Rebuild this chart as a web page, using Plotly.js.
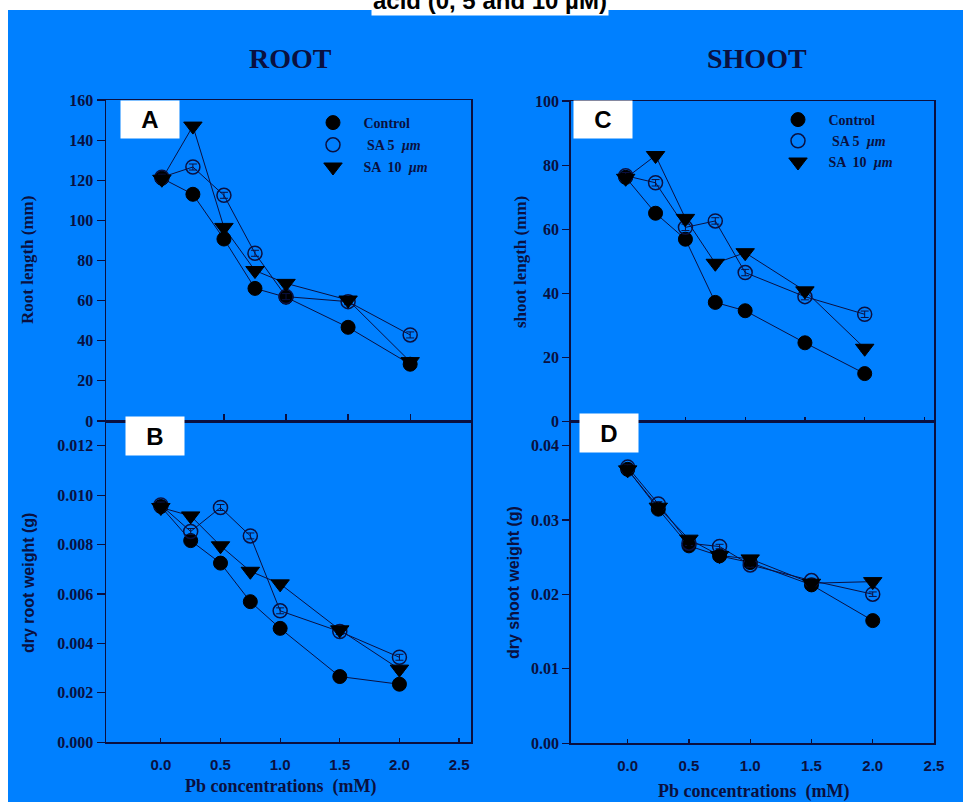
<!DOCTYPE html>
<html>
<head>
<meta charset="utf-8">
<script src="https://cdn.plot.ly/plotly-3.0.1.min.js"></script>
<style>html,body{margin:0;padding:0;background:#fff;}#chart{width:963px;height:802px;}</style>
</head>
<body>
<div id="chart"></div>
<script>
// ---- data ----
const pb = [0, 0.25, 0.5, 0.75, 1.0, 1.5, 2.0];
const seriesNames = ["Control", "\u00a0SA 5  <i>µm</i>", "SA  10  <i>µm</i>"];

const rootLenControl = [121, 113, 90.7, 66.1, 61.7, 46.7, 28.3];
const rootLenSA5     = [121.5, 126.6, 112.5, 83.6, 62, 59.5, 42.9];
const rootLenSA10    = [120.5, 147, 96.5, 75, 68.6, 60.3, 29.6];

const rootWtControl = [0.00954, 0.00816, 0.00725, 0.00569, 0.00461, 0.00266, 0.00235];
const rootWtSA5     = [0.0096, 0.00853, 0.0095, 0.00835, 0.00532, 0.00448, 0.00344];
const rootWtSA10    = [0.0095, 0.00916, 0.00795, 0.00692, 0.00641, 0.00455, 0.00296];

const shootLenControl = [76.2, 65, 56.9, 37.2, 34.6, 24.6, 15];
const shootLenSA5     = [76.7, 74.5, 60.6, 62.6, 46.5, 39, 33.5];
const shootLenSA10    = [75.9, 83, 63.4, 49.4, 52.7, 40.8, 22.9];

const shootWtControl = [0.0368, 0.03145, 0.02652, 0.02517, 0.02428, 0.02128, 0.01648];
const shootWtSA5     = [0.0371, 0.03216, 0.02688, 0.02643, 0.02396, 0.02186, 0.02003];
const shootWtSA10    = [0.03673, 0.03172, 0.02742, 0.02522, 0.02477, 0.0215, 0.02172];

// small error bars (estimated)
const errRootLen  = [1.5, 1.5, 1.5, 1.5, 1.5, 1.5, 1.5];
const errRootWt   = [0.00012, 0.00012, 0.00012, 0.00012, 0.00012, 0.00012, 0.00012];
const errShootLen = [1.0, 1.0, 1.0, 1.0, 1.0, 1.0, 1.0];
const errShootWt  = [0.0003, 0.0003, 0.0003, 0.0003, 0.0003, 0.0003, 0.0003];

// ---- styling ----
const W = 963, H = 802;
const px = v => v / W;
const py = v => 1 - v / H;
const NAVY = '#0a1040';
const BLUE = '#0080ff';
const serif = 'Liberation Serif, Times New Roman, serif';
const sans = 'Liberation Sans, Arial, sans-serif';

const markerStyles = [
  {symbol: 'circle', size: 14, color: '#000000', line: {color: '#000000', width: 1}},
  {symbol: 'circle', size: 14, color: 'rgba(0,0,0,0)', line: {color: NAVY, width: 1.5}},
  {symbol: 'triangle-down', size: 16, color: '#000000', line: {color: '#000000', width: 1}}
];

function makeTraces(ys, err, xa, ya, legendName) {
  const lines = ys.map((y, i) => ({
    type: 'scatter', mode: 'lines', x: pb, y: y, xaxis: xa, yaxis: ya,
    showlegend: false, hoverinfo: 'skip', line: {color: NAVY, width: 1}
  }));
  const marks = ys.map((y, i) => ({
    type: 'scatter', mode: 'markers',
    x: pb, y: y, xaxis: xa, yaxis: ya,
    name: '\u00a0\u00a0\u00a0' + seriesNames[i],
    legend: legendName || 'legend',
    legendgroup: (legendName || 'x') + i,
    showlegend: !!legendName,
    marker: markerStyles[i],
    error_y: {type: 'data', array: err, visible: true, color: NAVY, thickness: 1, width: 4}
  }));
  return lines.concat(marks);
}

const traces = [].concat(
  makeTraces([rootLenControl, rootLenSA5, rootLenSA10], errRootLen, 'x', 'y', 'legend'),
  makeTraces([rootWtControl, rootWtSA5, rootWtSA10], errRootWt, 'x2', 'y2', null),
  makeTraces([shootLenControl, shootLenSA5, shootLenSA10], errShootLen, 'x3', 'y3', 'legend2'),
  makeTraces([shootWtControl, shootWtSA5, shootWtSA10], errShootWt, 'x4', 'y4', null)
);

const axBase = {
  showline: true, linecolor: NAVY, linewidth: 1.5, mirror: true,
  showgrid: false, zeroline: false, tickcolor: NAVY, tickwidth: 1.2
};
const serifTick = {family: serif, size: 16, color: NAVY, weight: 'bold'};
const sansTick = {family: sans, size: 15, color: NAVY, weight: 'bold'};

const layout = {
  width: W, height: H,
  margin: {l: 0, r: 0, t: 0, b: 0},
  paper_bgcolor: '#ffffff',
  plot_bgcolor: BLUE,
  showlegend: true,
  // Panel A
  xaxis: Object.assign({}, axBase, {domain: [px(106), px(471)], range: [-0.45, 2.49], anchor: 'y',
    tickvals: [0.5, 1, 1.5, 2], ticks: 'inside', ticklen: 7, showticklabels: false}),
  yaxis: Object.assign({}, axBase, {domain: [py(421), py(100)], range: [0, 160], anchor: 'x',
    tickvals: [0, 20, 40, 60, 80, 100, 120, 140, 160], ticks: 'outside', ticklen: 8, tickfont: serifTick}),
  // Panel B
  xaxis2: Object.assign({}, axBase, {domain: [px(106), px(471)], range: [-0.46, 2.6], anchor: 'y2',
    tickvals: [0, 0.5, 1, 1.5, 2, 2.5], tickformat: '.1f', ticks: 'inside', ticklen: 4,
    tickfont: sansTick, ticklabelstandoff: 8}),
  yaxis2: Object.assign({}, axBase, {domain: [py(742.3), py(421)], range: [0, 0.013], anchor: 'x2',
    tickvals: [0, 0.002, 0.004, 0.006, 0.008, 0.010, 0.012], tickformat: '.3f', ticks: 'outside', ticklen: 8, tickfont: serifTick}),
  // Panel C
  xaxis3: Object.assign({}, axBase, {domain: [px(570.7), px(934)], range: [-0.46, 2.58], anchor: 'y3',
    tickvals: [0.5, 1, 1.5, 2, 2.5], ticks: 'inside', ticklen: 5, showticklabels: false}),
  yaxis3: Object.assign({}, axBase, {domain: [py(421.7), py(101)], range: [0, 100], anchor: 'x3',
    tickvals: [0, 20, 40, 60, 80, 100], ticks: 'outside', ticklen: 7, tickfont: serifTick}),
  // Panel D
  xaxis4: Object.assign({}, axBase, {domain: [px(570.7), px(934)], range: [-0.465, 2.5], anchor: 'y4',
    tickvals: [0, 0.5, 1, 1.5, 2, 2.5], tickformat: '.1f', ticks: 'inside', ticklen: 4,
    tickfont: sansTick, ticklabelstandoff: 8}),
  yaxis4: Object.assign({}, axBase, {domain: [py(743.3), py(421.7)], range: [0, 0.0432], anchor: 'x4',
    tickvals: [0, 0.01, 0.02, 0.03, 0.04], tickformat: '.2f', ticks: 'outside', ticklen: 7, tickfont: serifTick}),
  legend: {x: px(313), y: py(107), xanchor: 'left', yanchor: 'top', bgcolor: 'rgba(0,0,0,0)',
    font: {family: serif, size: 14, color: NAVY, weight: 'bold'}, tracegroupgap: 1, itemclick: false},
  legend2: {x: px(778), y: py(104), xanchor: 'left', yanchor: 'top', bgcolor: 'rgba(0,0,0,0)',
    font: {family: serif, size: 14, color: NAVY, weight: 'bold'}, tracegroupgap: 0, itemclick: false},
  shapes: [
    {type: 'rect', xref: 'paper', yref: 'paper', x0: px(8), x1: 1, y0: 0, y1: py(10),
     fillcolor: BLUE, line: {width: 0}, layer: 'below'}
  ],
  annotations: [
    {text: '<b>acid (0, 5 and 10 µM)</b>', xref: 'paper', yref: 'paper', x: px(490), y: py(1),
     xanchor: 'center', yanchor: 'middle', showarrow: false, bgcolor: '#ffffff',
     font: {family: sans, size: 24, color: '#000000'}},
    {text: '<b>ROOT</b>', xref: 'paper', yref: 'paper', x: px(290), y: py(58), xanchor: 'center', yanchor: 'middle',
     showarrow: false, font: {family: serif, size: 28, color: NAVY}},
    {text: '<b>SHOOT</b>', xref: 'paper', yref: 'paper', x: px(757), y: py(58), xanchor: 'center', yanchor: 'middle',
     showarrow: false, font: {family: serif, size: 28, color: NAVY}},
    // panel labels
    {text: '<b>A</b>', xref: 'paper', yref: 'paper', x: px(120), y: py(100), xanchor: 'left', yanchor: 'top',
     width: 58, height: 37, bgcolor: '#ffffff', borderpad: 0, showarrow: false, font: {family: sans, size: 24, color: '#000000'}},
    {text: '<b>B</b>', xref: 'paper', yref: 'paper', x: px(125), y: py(416), xanchor: 'left', yanchor: 'top',
     width: 58, height: 38, bgcolor: '#ffffff', borderpad: 0, showarrow: false, font: {family: sans, size: 24, color: '#000000'}},
    {text: '<b>C</b>', xref: 'paper', yref: 'paper', x: px(573), y: py(100), xanchor: 'left', yanchor: 'top',
     width: 58, height: 37, bgcolor: '#ffffff', borderpad: 0, showarrow: false, font: {family: sans, size: 24, color: '#000000'}},
    {text: '<b>D</b>', xref: 'paper', yref: 'paper', x: px(579), y: py(413), xanchor: 'left', yanchor: 'top',
     width: 58, height: 38, bgcolor: '#ffffff', borderpad: 0, showarrow: false, font: {family: sans, size: 24, color: '#000000'}},
    // axis titles
    {text: '<b>Root length (mm)</b>', xref: 'paper', yref: 'paper', x: px(27), y: py(260), textangle: -90,
     xanchor: 'center', yanchor: 'middle', showarrow: false, font: {family: serif, size: 17, color: NAVY}},
    {text: '<b>dry root weight (g)</b>', xref: 'paper', yref: 'paper', x: px(28), y: py(583), textangle: -90,
     xanchor: 'center', yanchor: 'middle', showarrow: false, font: {family: sans, size: 16, color: NAVY}},
    {text: '<b>shoot length (mm)</b>', xref: 'paper', yref: 'paper', x: px(520), y: py(262), textangle: -90,
     xanchor: 'center', yanchor: 'middle', showarrow: false, font: {family: serif, size: 17, color: NAVY}},
    {text: '<b>dry shoot weight (g)</b>', xref: 'paper', yref: 'paper', x: px(513), y: py(583), textangle: -90,
     xanchor: 'center', yanchor: 'middle', showarrow: false, font: {family: sans, size: 16, color: NAVY}},
    {text: '<b>Pb concentrations  (mM)</b>', xref: 'paper', yref: 'paper', x: px(280), y: py(786),
     xanchor: 'center', yanchor: 'middle', showarrow: false, font: {family: serif, size: 18, color: NAVY}},
    {text: '<b>Pb concentrations  (mM)</b>', xref: 'paper', yref: 'paper', x: px(753), y: py(791),
     xanchor: 'center', yanchor: 'middle', showarrow: false, font: {family: serif, size: 18, color: NAVY}}
  ]
};

Plotly.newPlot('chart', traces, layout, {displayModeBar: false, staticPlot: true});
</script>
</body>
</html>
